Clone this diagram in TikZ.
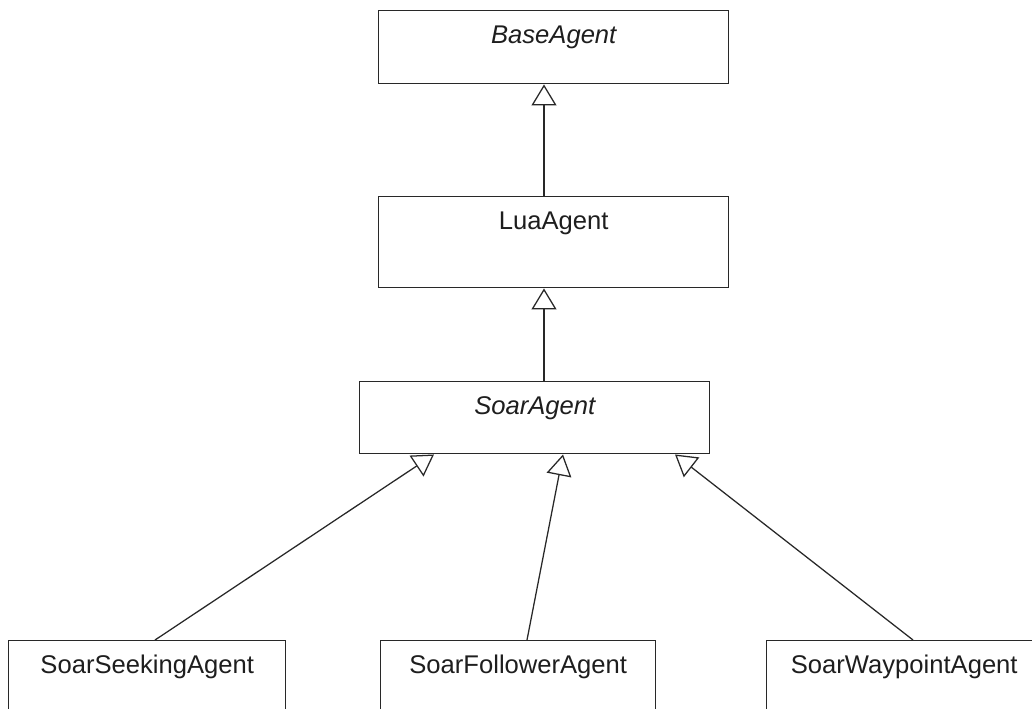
\documentclass[tikz,border=0pt]{standalone}
\usepackage{fontspec}
\setmainfont{Liberation Sans}
\usetikzlibrary{arrows.meta,calc}
\definecolor{edge}{RGB}{40,40,40}
\definecolor{ink}{RGB}{30,30,30}
\begin{document}
\begin{tikzpicture}[x=0.75pt,y=-0.75pt,
  classbox/.style={draw=edge,line width=1.1pt,fill=white,anchor=north west,
    inner sep=0pt,align=center,text=ink,font=\fontsize{19.2pt}{23pt}\selectfont,
    text height=24.75pt},
  inherit/.style={draw=edge,line width=0.95pt,
    -{Triangle[open,length=15.75pt,width=18.75pt,fill=white]}}]
\useasboundingbox (0,0) rectangle (1032,709);
\begin{scope}
\clip (0,0) rectangle (1032,709);
% class boxes, baseline 33px below each top edge
\node[classbox,minimum width=262.5pt,text depth=30pt] (base) at (378,10) {\itshape BaseAgent};
\node[classbox,minimum width=262.5pt,text depth=43.5pt] (lua) at (378,196) {LuaAgent};
\node[classbox,minimum width=262.5pt,text depth=29.25pt] (soar) at (359,381) {\itshape SoarAgent};
\node[classbox,minimum width=207.75pt,text depth=65.25pt] (seek) at (8,640) {SoarSeekingAgent};
\node[classbox,minimum width=206.25pt,text depth=65.25pt] (follow) at (380,640) {SoarFollowerAgent};
\node[classbox,minimum width=206.25pt,text depth=65.25pt] (waypt) at (766,640) {SoarWaypointAgent};
% generalisation links
\draw[inherit] ($(lua.north west)+(166,0)$) -- ($(base.south west)+(166,0)$);
\draw[inherit] ($(soar.north west)+(185,0)$) -- ($(lua.south west)+(166,0)$);
\draw[inherit] ($(seek.north west)+(147,0)$) -- ($(soar.south west)+(75,0)$);
\draw[inherit] ($(follow.north west)+(147,0)$) -- ($(soar.south west)+(204,0)$);
\draw[inherit] ($(waypt.north west)+(147,0)$) -- ($(soar.south west)+(316,0)$);
\end{scope}
\end{tikzpicture}
\end{document}
